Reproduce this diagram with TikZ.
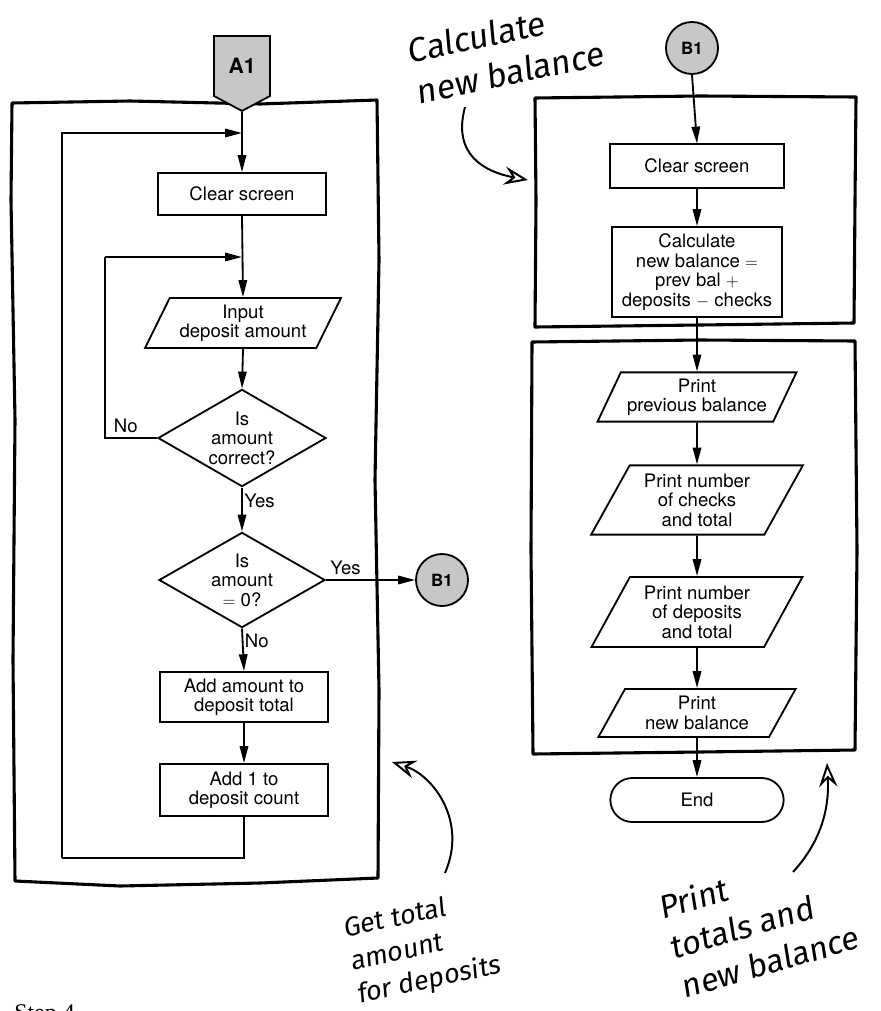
\documentclass[tikz,border=0pt]{standalone}
\usepackage{fontspec}
\setmainfont{TeX Gyre Heros}
\newfontfamily\handfont{Fira Sans}[FakeSlant=0.12]
\newfontfamily\captionfont{Liberation Serif}
\usetikzlibrary{arrows.meta, shapes.geometric, shapes.symbols}
\tikzset{%
	every flow node/.style={
		draw,
		line width=1.3pt,
		align=center,
		inner sep=0pt,
		font=\fontsize{13.2}{13.8}\selectfont
	},
	process/.style={every flow node, rectangle},
	io/.style={
		every flow node,
		trapezium,
		trapezium left angle=60,
		trapezium right angle=120,
		trapezium stretches=true
	},
	decision/.style={
		every flow node,
		diamond,
		aspect=1.73,
		inner sep=-4pt
	},
	terminator/.style={every flow node, rectangle, rounded corners=0.55cm},
	page link/.style={
		circle,
		draw,
		line width=1.3pt,
		fill=black!22,
		minimum size=1.3cm,
		inner sep=0pt,
		font=\bfseries\fontsize{12}{12}\selectfont
	},
	offpage/.style={
		signal,
		signal to=south,
		signal from=nowhere,
		signal pointer angle=124,
		draw,
		line width=1.3pt,
		fill=black!22,
		minimum width=1.4cm,
		minimum height=1.68cm,
		inner sep=0pt,
		font=\bfseries\fontsize{15}{15}\selectfont
	},
	flow/.style={line width=1.3pt, -{Triangle[length=12pt,width=6pt]}},
	flow label/.style={font=\fontsize{13.2}{13.8}\selectfont, inner sep=1pt},
	hand frame/.style={line width=2.2pt, line join=round},
	note/.style={line width=1.4pt, -{Stealth[open,length=17pt,width=13pt,inset=6pt]}},
	note text/.style={align=left, inner sep=0pt, rotate=12},
}

\begin{document}
\begin{tikzpicture}[x=0.025cm, y=-0.025cm]
	% Page size
	\useasboundingbox (0,0) rectangle (880,1011);

	% Hand drawn frames round the modules
	\draw[hand frame] (12,103) -- (130,101) -- (260,104) -- (377,100) -- (379,260) -- (375,480) -- (379,690) -- (378,878) -- (260,883) -- (120,886) -- (15,881) -- (13,660) -- (15,420) -- (11,200) -- cycle;
	\draw[hand frame] (535,98) -- (700,96) -- (856,97) -- (855,200) -- (854,323) -- (700,325) -- (535,327) -- (536,200) -- cycle;
	\draw[hand frame] (532,342) -- (700,340) -- (855,341) -- (857,550) -- (855,750) -- (700,752) -- (533,754) -- (531,550) -- cycle;

	% Left module: total of the deposits
	\node[offpage] (a1) at (242,66) {A1};
	\node[process, minimum width=4.18cm, minimum height=1.05cm] (cs1) at (242,194) {Clear screen};
	\node[io, minimum width=4.9cm, minimum height=1.25cm] (in1) at (243,323) {Input\\deposit amount};
	\node[decision, minimum width=4.2cm, minimum height=2.43cm] (dec1) at (242,438) {Is\\amount\\correct?};
	\node[decision, minimum width=4.15cm, minimum height=2.38cm] (dec2) at (242,580) {Is\\amount\\$=$ 0?};
	\node[page link] (b1out) at (442,580) {B1};
	\node[process, minimum width=4.2cm, minimum height=1.25cm] (add1) at (244,697) {Add amount to\\deposit total};
	\node[process, minimum width=4.2cm, minimum height=1.3cm] (add2) at (244,790) {Add 1 to\\deposit count};

	% Points where the two loops come back in
	\coordinate (loopA) at (242,133);
	\coordinate (loopB) at (242,257);
	\coordinate (outerCorner) at (62,858);
	\coordinate (innerCorner) at (105,257);

	\draw[flow] (a1.south) -- (cs1.north);
	\draw[flow] (cs1.south) -- (in1.north);
	\draw[flow] (in1.south) -- (dec1.north);
	\draw[flow] (dec1.south) -- node[flow label, anchor=west, pos=0.3] (yes1) {Yes} (dec2.north);
	\draw[flow] (dec2.east) -- node[flow label, anchor=south, pos=0.22, yshift=2pt] (yes2) {Yes} (b1out.west);
	\draw[flow] (dec2.south) -- node[flow label, anchor=west, pos=0.3] (no2) {No} (add1.north);
	\draw[flow] (add1.south) -- (add2.north);
	\draw[line width=1.3pt] (dec1.west) -| node[flow label, anchor=south, pos=0.3, yshift=2pt] (no1) {No} (innerCorner);
	\draw[flow] (innerCorner) -- (loopB);
	\draw[line width=1.3pt] (add2.south) |- (outerCorner);
	\draw[flow] (outerCorner) |- (loopA);

	% Right module: new balance, then the printout
	\node[page link] (b1in) at (692,48) {B1};
	\node[process, minimum width=4.33cm, minimum height=1.08cm] (cs2) at (697,166) {Clear screen};
	\node[process, minimum width=4.25cm, minimum height=2.25cm] (calc) at (697,272) {Calculate\\new balance $=$\\prev bal $+$\\deposits $-$ checks};
	\node[io, minimum width=4.98cm, minimum height=1.23cm] (pr1) at (697,397) {Print\\previous balance};
	\node[io, minimum width=5.3cm, minimum height=1.73cm] (pr2) at (697,500) {Print number\\of checks\\and total};
	\node[io, minimum width=5.28cm, minimum height=1.75cm] (pr3) at (697,612) {Print number\\of deposits\\and total};
	\node[io, minimum width=4.93cm, minimum height=1.2cm] (pr4) at (697,713) {Print\\new balance};
	\node[terminator, minimum width=4.33cm, minimum height=1.1cm] (endn) at (697,800) {End};

	% Loop through the chain of the right column
	\foreach \from/\to in {b1in/cs2, cs2/calc, calc/pr1, pr1/pr2, pr2/pr3, pr3/pr4, pr4/endn} {
		\draw[flow] (\from.south) -- (\to.north);
	}

	% Handwritten notes
	\node[note text, font=\handfont\fontsize{24}{30}\selectfont] (noteCalc) at (505,52) {Calculate\\new balance};
	\node[note text, font=\handfont\fontsize{19}{24}\selectfont] (noteGet) at (422,948) {Get total\\amount\\for deposits};
	\node[note text, rotate=4, font=\handfont\fontsize{23}{29}\selectfont] (notePrint) at (758,922) {Print\\totals and\\new balance};

	\coordinate (calcTail) at (465,107);
	\coordinate (calcTip) at (528,180);
	\coordinate (getTail) at (445,873);
	\coordinate (getTip) at (392,762);
	\coordinate (printTail) at (793,872);
	\coordinate (printTip) at (827,763);
	\draw[note] (calcTail) .. controls (452,155) and (485,172) .. (calcTip);
	\draw[note] (getTail) .. controls (468,820) and (432,775) .. (getTip);
	\draw[note] (printTail) .. controls (826,836) and (829,800) .. (printTip);

	% Caption running off the foot of the page
	\node[anchor=base west, inner sep=0pt, font=\captionfont\fontsize{17}{17}\selectfont] (caption) at (14,1020) {Step 4};
\end{tikzpicture}
\end{document}
